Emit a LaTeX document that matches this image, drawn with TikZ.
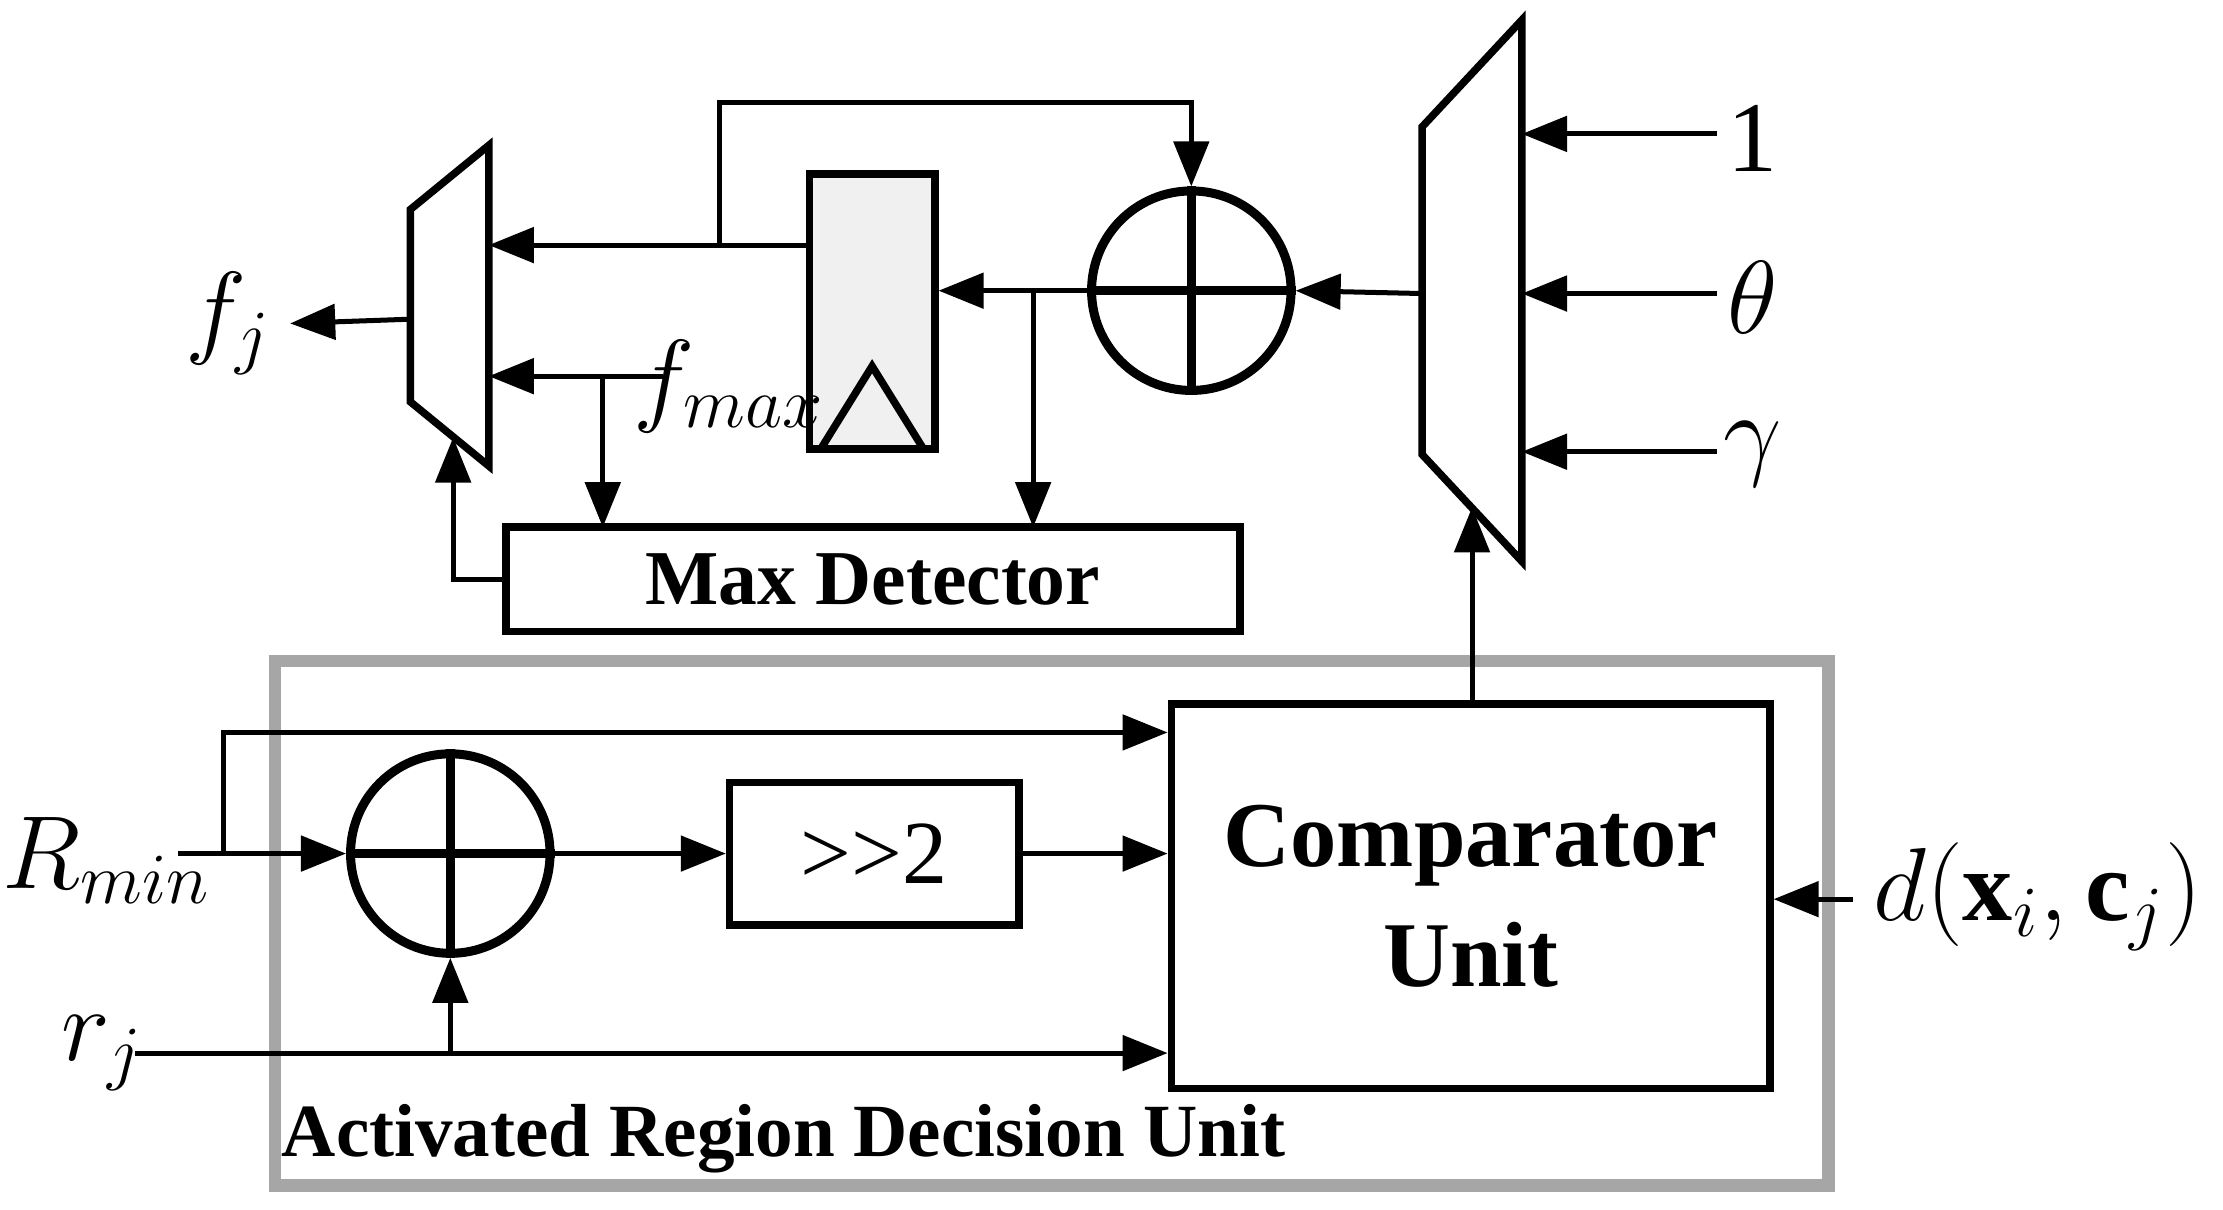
\documentclass[tikz,border=0pt]{standalone}
\usepackage{fontspec}
\setmainfont{Liberation Serif}
\usepackage{amsmath}
\usetikzlibrary{arrows.meta}

\begin{document}
\begin{tikzpicture}[line width=1pt, >={Triangle[length=9pt,width=7pt]},
  blk/.style={draw, line width=1.5pt, inner sep=0pt},
  add/.style={draw, circle, line width=1.8pt, minimum size=1.4cm, inner sep=0pt},
  lbl/.style={font=\fontsize{20}{22}\selectfont}]
\useasboundingbox (0,0) rectangle (15.6,8.49);
% activated region box
\draw[line width=2.5pt, gray!70] (1.93,0.17) rectangle (12.83,3.85);
\node[font=\bfseries\fontsize{15}{17}\selectfont] (aru) at (5.5,0.5) {Activated Region Decision Unit};
% muxes
\draw[line width=1.5pt] (2.88,7.02) -- (3.43,7.47) -- (3.43,5.22) -- (2.88,5.67) -- cycle;
\draw[line width=1.5pt] (9.98,7.6) -- (10.68,8.35) -- (10.68,4.55) -- (9.98,5.3) -- cycle;
\coordinate (mlout) at (2.88,6.25);
\coordinate (mrout) at (9.98,6.43);
% register
\node[blk, fill=gray!12, minimum width=0.88cm, minimum height=1.93cm] (reg) at (6.12,6.305) {};
\draw[line width=1.5pt] (5.76,5.34) -- (6.12,5.92) -- (6.48,5.34);
% adders
\node[add] (ad1) at (8.36,6.45) {};
\draw[line width=1.8pt] (ad1.north) -- (ad1.south) (ad1.west) -- (ad1.east);
\node[add] (ad2) at (3.16,2.5) {};
\draw[line width=1.8pt] (ad2.north) -- (ad2.south) (ad2.west) -- (ad2.east);
% blocks
\node[blk, minimum width=5.15cm, minimum height=0.73cm, font=\bfseries\fontsize{15.5}{17}\selectfont] (max) at (6.125,4.425) {Max Detector};
\node[blk, minimum width=2.03cm, minimum height=1.0cm, font=\fontsize{18}{20}\selectfont] (shf) at (6.135,2.5) {>\kern0pt>\kern0pt2};
\node[blk, minimum width=4.2cm, minimum height=2.7cm, font=\bfseries\fontsize{18.5}{24}\selectfont, align=center] (cmp) at (10.32,2.2) {Comparator\\Unit};
% labels
\node[lbl] (fj) at (1.6,6.22) {$f_j$};
\node[lbl] (fmax) at (5.12,5.78) {$f_{max}$};
\node[lbl] (one) at (12.3,7.52) {1};
\node[lbl] (th) at (12.3,6.4) {$\theta$};
\node[lbl] (ga) at (12.3,5.3) {$\gamma$};
\node[lbl] (rmin) at (0.75,2.45) {$R_{min}$};
\node[lbl] (rj) at (0.72,1.1) {$r_j$};
\node[lbl] (dx) at (14.3,2.2) {$d(\mathbf{x}_i,\mathbf{c}_j)$};
% connectors
\draw[->] (mlout) -- (fj.east);
\draw[->] (12.05,7.55) -- (10.68,7.55);
\draw[->] (12.05,6.43) -- (10.68,6.43);
\draw[->] (12.05,5.32) -- (10.68,5.32);
\draw[->] (mrout) -- (ad1.east);
\draw[->] (ad1.west) -- (reg.east |- ad1.west);
\draw[->] (7.25,6.45) -- (7.25,4.79);
\draw[->] (reg.west |- 0,6.77) -- (3.43,6.77);
\draw[->] (5.05,6.77) -- (5.05,7.77) -- (8.36,7.77) -- (ad1.north);
\draw[->] (4.65,5.85) -- (3.43,5.85);
\draw[->] (4.23,5.85) -- (4.23,4.79);
\draw[->] (max.west) -- (3.18,4.425) -- (3.18,5.42);
\draw[->] (10.33,3.55) -- (10.33,4.93);
\draw[->] (1.25,2.5) -- (ad2.west);
\draw[->] (1.57,2.5) -- (1.57,3.35) -- (cmp.west |- 0,3.35);
\draw[->] (ad2.east) -- (shf.west);
\draw[->] (shf.east) -- (cmp.west |- shf.east);
\draw[->] (0.95,1.1) -- (cmp.west |- 0,1.1);
\draw[->] (3.16,1.1) -- (ad2.south);
\draw[->] (13.0,2.18) -- (cmp.east |- 0,2.18);
\end{tikzpicture}
\end{document}
